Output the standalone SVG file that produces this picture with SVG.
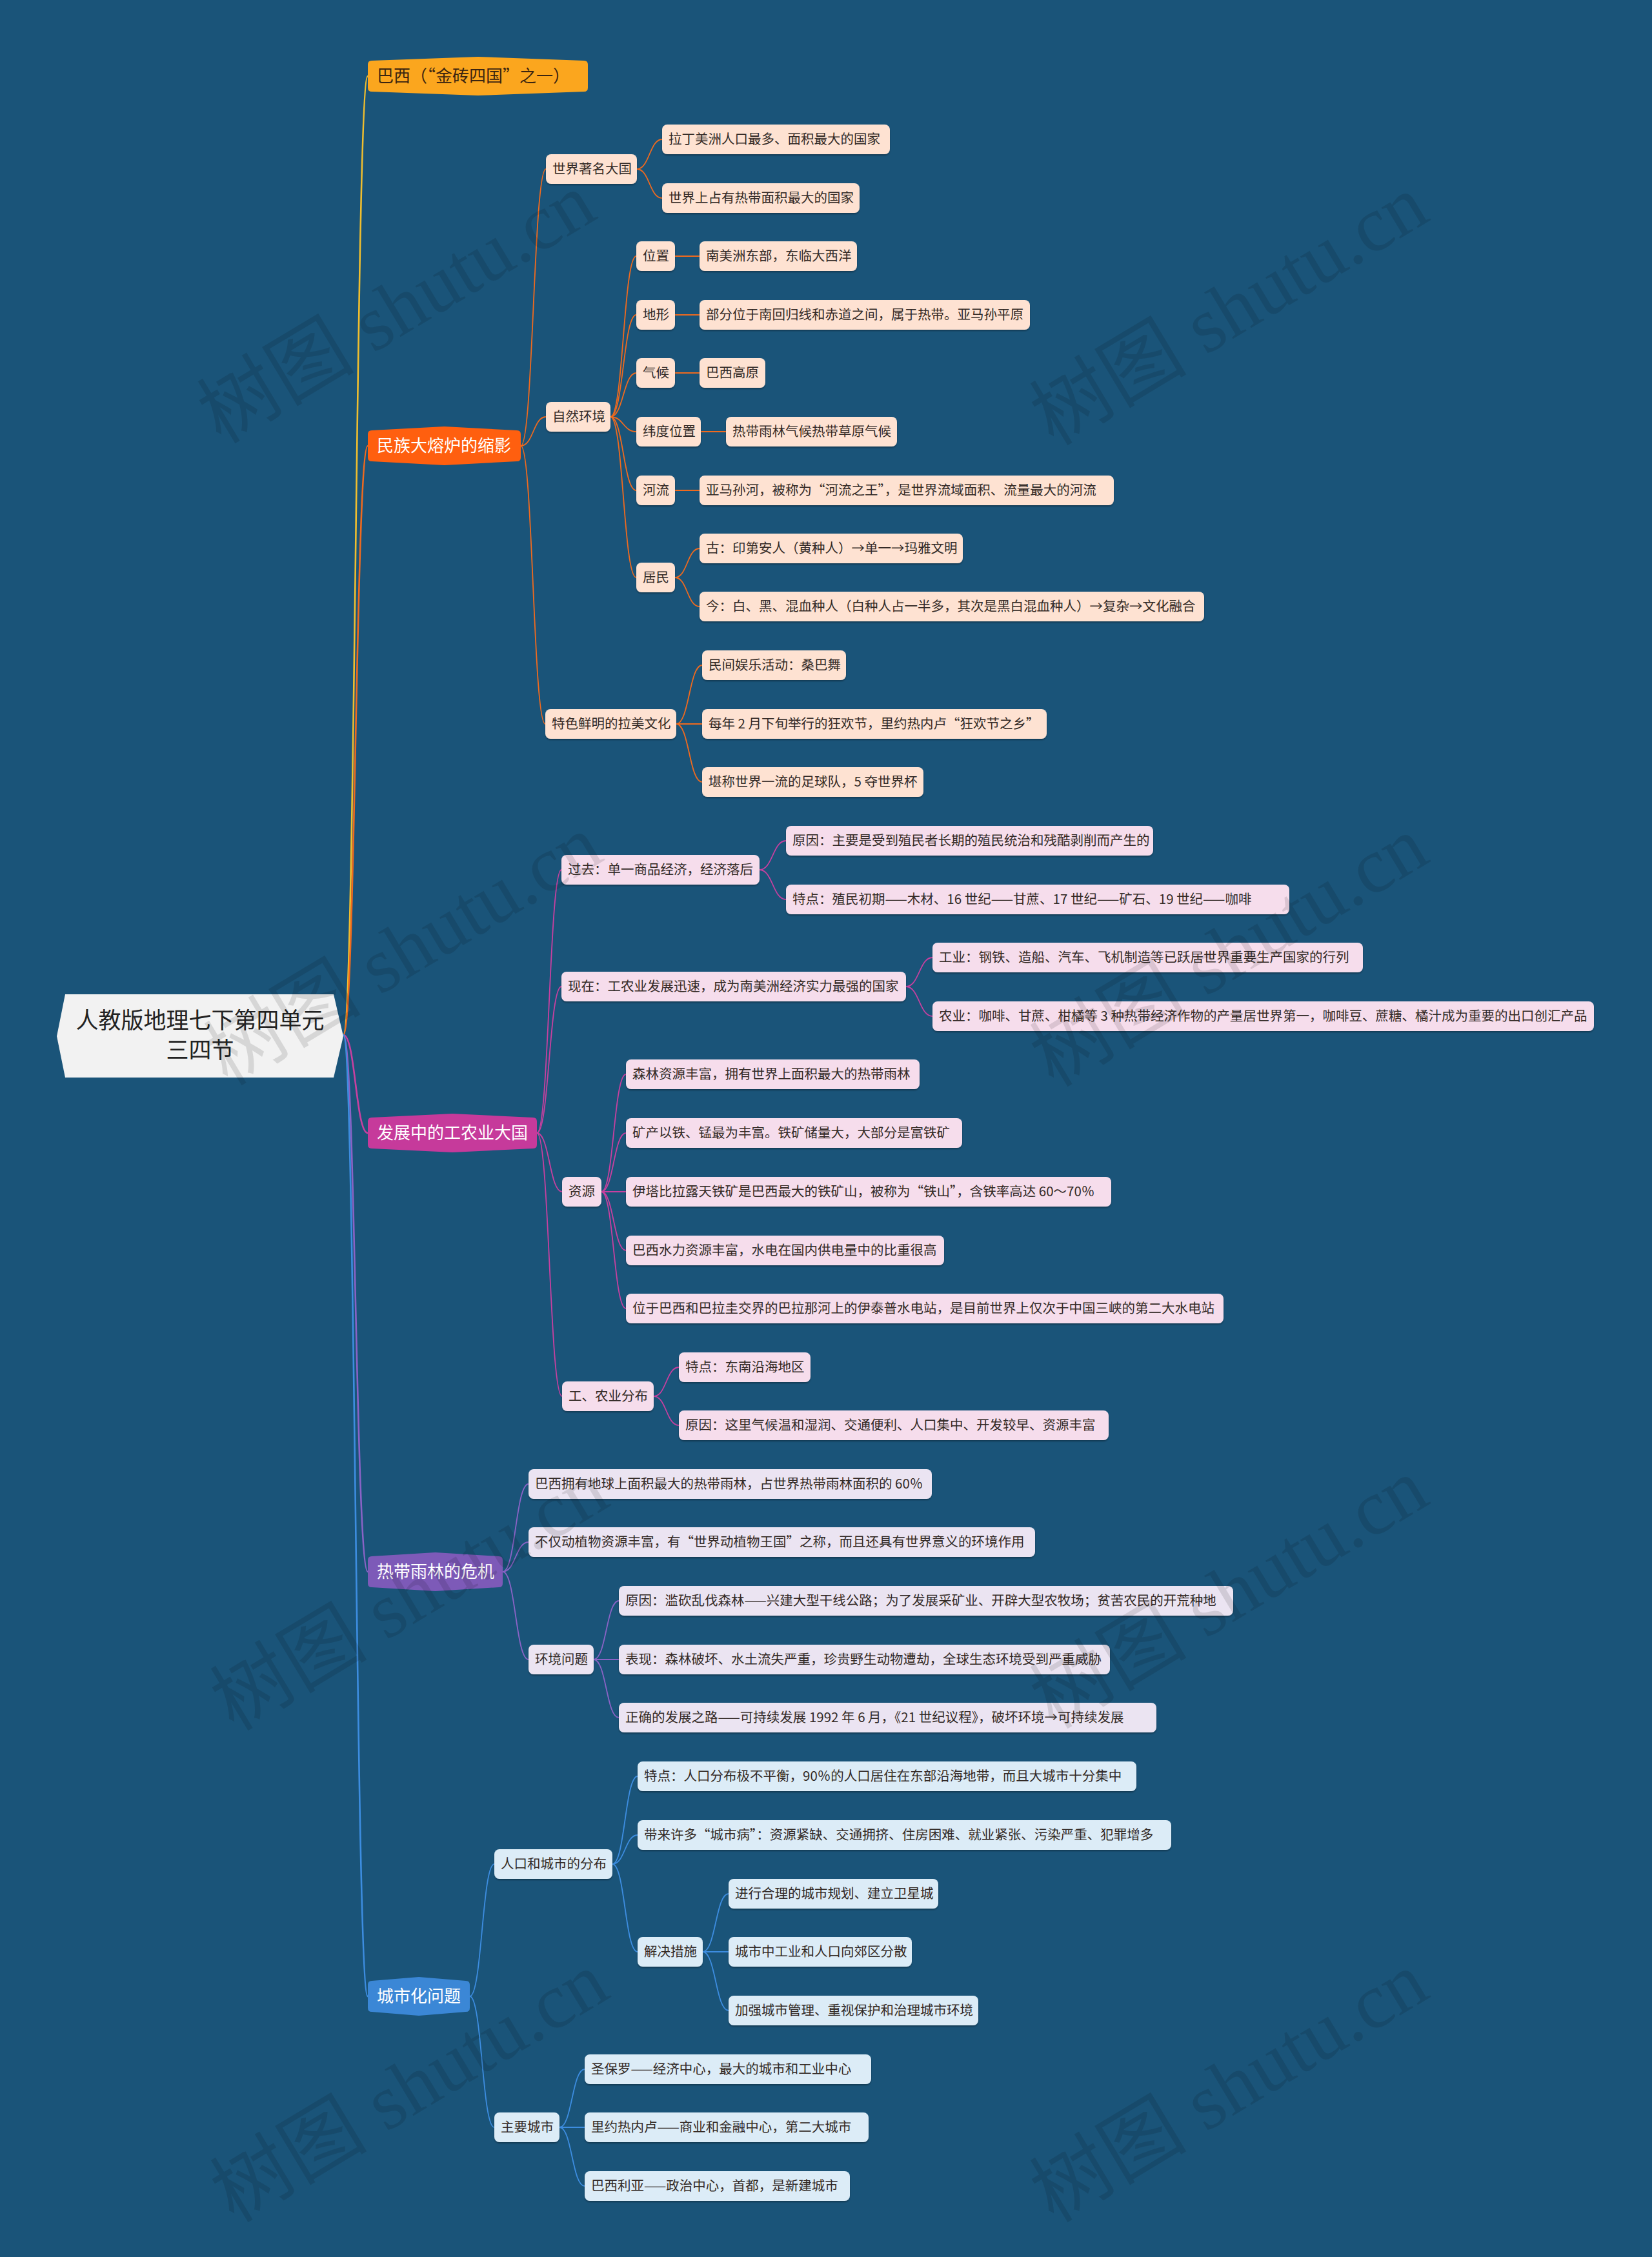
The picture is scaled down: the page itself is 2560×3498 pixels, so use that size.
<svg xmlns="http://www.w3.org/2000/svg" width="2560" height="3498" viewBox="0 0 2560 3498">
<defs>
<filter id="sh" x="-5%" y="-20%" width="110%" height="150%"><feDropShadow dx="0" dy="2" stdDeviation="1.2" flood-color="#000" flood-opacity="0.3"/></filter>
<style>
text{font-family:"Noto Sans CJK SC","Liberation Sans",sans-serif;}
.s{font-size:20.5px;fill:#332a26;}
.l1{font-size:26px;fill:#ffffff;}
.rt{font-size:35px;fill:#222222;}
.q{font-feature-settings:"fwid" 1;}
.c{fill:none;stroke-linecap:round;}
.m{stroke-width:2.6;}
.k{stroke-width:1.8;}
.cy{stroke:#F0BE2E;}
.co{stroke:#F06A1E;}
.cp{stroke:#C840A0;}
.cv{stroke:#8A63C6;}
.cb{stroke:#3D8DE0;}
.no rect{fill:#FEE2D2;}
.np rect{fill:#F6DDEC;}
.nv rect{fill:#EBE4F2;}
.nb rect{fill:#DCECF7;}
.node rect{filter:url(#sh);}
.wm{font-family:"Liberation Serif","Noto Sans CJK SC",serif;font-size:122px;fill:#000;opacity:0.11;}
</style>
</defs>
<rect x="0" y="0" width="2560" height="3498" fill="#1A5479"/>

<g id="connectors">
<path class="c m cy" d="M532,1604 C551,1604 551,118 570,118"/>
<path class="c m co" d="M532,1604 C551,1604 551,691 570,691"/>
<path class="c m cp" d="M532,1604 C551,1604 551,1756 570,1756"/>
<path class="c m cv" d="M532,1604 C551,1604 551,2436 570,2436"/>
<path class="c m cb" d="M532,1604 C551,1604 551,3094 570,3094"/>
<path class="c k co" d="M807,691 C826.5,691 826.5,262 846,262"/>
<path class="c k co" d="M807,691 C826.5,691 826.5,646 846,646"/>
<path class="c k co" d="M807,691 C826,691 826,1122 845,1122"/>
<path class="c k co" d="M987,262 C1006.5,262 1006.5,216 1026,216"/>
<path class="c k co" d="M987,262 C1006.5,262 1006.5,307 1026,307"/>
<path class="c k co" d="M946,646 C966,646 966,397 986,397"/>
<path class="c k co" d="M946,646 C966,646 966,488 986,488"/>
<path class="c k co" d="M946,646 C966,646 966,578 986,578"/>
<path class="c k co" d="M946,646 C966,646 966,669 986,669"/>
<path class="c k co" d="M946,646 C966,646 966,760 986,760"/>
<path class="c k co" d="M946,646 C966,646 966,895 986,895"/>
<path class="c k co" d="M1046,397 L1084,397"/>
<path class="c k co" d="M1046,488 L1084,488"/>
<path class="c k co" d="M1046,578 L1084,578"/>
<path class="c k co" d="M1086,669 L1125,669"/>
<path class="c k co" d="M1046,760 L1084,760"/>
<path class="c k co" d="M1046,895 C1065,895 1065,850 1084,850"/>
<path class="c k co" d="M1046,895 C1065,895 1065,940 1084,940"/>
<path class="c k co" d="M1048,1122 C1068,1122 1068,1031 1088,1031"/>
<path class="c k co" d="M1048,1122 L1088,1122"/>
<path class="c k co" d="M1048,1122 C1068,1122 1068,1212 1088,1212"/>
<path class="c k cp" d="M832,1756 C851,1756 851,1348 870,1348"/>
<path class="c k cp" d="M832,1756 C851,1756 851,1529 870,1529"/>
<path class="c k cp" d="M832,1756 C851.5,1756 851.5,1847 871,1847"/>
<path class="c k cp" d="M832,1756 C851.5,1756 851.5,2164 871,2164"/>
<path class="c k cp" d="M1177,1348 C1197.5,1348 1197.5,1303 1218,1303"/>
<path class="c k cp" d="M1177,1348 C1197.5,1348 1197.5,1394 1218,1394"/>
<path class="c k cp" d="M1404,1529 C1424.5,1529 1424.5,1484 1445,1484"/>
<path class="c k cp" d="M1404,1529 C1424.5,1529 1424.5,1575 1445,1575"/>
<path class="c k cp" d="M932,1847 C951,1847 951,1665 970,1665"/>
<path class="c k cp" d="M932,1847 C951,1847 951,1756 970,1756"/>
<path class="c k cp" d="M932,1847 L970,1847"/>
<path class="c k cp" d="M932,1847 C951,1847 951,1938 970,1938"/>
<path class="c k cp" d="M932,1847 C951,1847 951,2028 970,2028"/>
<path class="c k cp" d="M1013,2164 C1032.5,2164 1032.5,2119 1052,2119"/>
<path class="c k cp" d="M1013,2164 C1032.5,2164 1032.5,2209 1052,2209"/>
<path class="c k cv" d="M779,2436 C799,2436 799,2300 819,2300"/>
<path class="c k cv" d="M779,2436 C799,2436 799,2390 819,2390"/>
<path class="c k cv" d="M779,2436 C799,2436 799,2572 819,2572"/>
<path class="c k cv" d="M920,2572 C939.5,2572 939.5,2481 959,2481"/>
<path class="c k cv" d="M920,2572 L959,2572"/>
<path class="c k cv" d="M920,2572 C939.5,2572 939.5,2662 959,2662"/>
<path class="c k cb" d="M728,3094 C747,3094 747,2889 766,2889"/>
<path class="c k cb" d="M728,3094 C747,3094 747,3297 766,3297"/>
<path class="c k cb" d="M949,2889 C968.5,2889 968.5,2753 988,2753"/>
<path class="c k cb" d="M949,2889 C968.5,2889 968.5,2844 988,2844"/>
<path class="c k cb" d="M949,2889 C968.5,2889 968.5,3025 988,3025"/>
<path class="c k cb" d="M1089,3025 C1109,3025 1109,2935 1129,2935"/>
<path class="c k cb" d="M1089,3025 L1129,3025"/>
<path class="c k cb" d="M1089,3025 C1109,3025 1109,3116 1129,3116"/>
<path class="c k cb" d="M867,3297 C886.5,3297 886.5,3207 906,3207"/>
<path class="c k cb" d="M867,3297 L906,3297"/>
<path class="c k cb" d="M867,3297 C886.5,3297 886.5,3388 906,3388"/>
</g>

<g id="root">
<path d="M88,1606 L101,1541 L517,1541 L532,1606 L517,1670 L101,1670 Z" fill="#F2F2F2"/>
<text class="rt" x="310" y="1594" text-anchor="middle">人教版地理七下第四单元</text>
<text class="rt" x="310" y="1640" text-anchor="middle">三四节</text>
</g>

<g id="n-baxi">
<path d="M570,100 Q570,94 576,94 L740.5,88 L905,94 Q911,94 911,100 L911,136 Q911,142 905,142 L740.5,148 L576,142 Q570,142 570,136 Z" fill="#FBA61E"/>
<text class="l1" x="584" y="127" style="fill:#3a2410">巴西（<tspan class="q">“</tspan>金砖四国<tspan class="q">”</tspan>之一）</text>
</g>
<g id="n-minzu">
<path d="M570,673 Q570,667 576,667 L688.5,661 L801,667 Q807,667 807,673 L807,709 Q807,715 801,715 L688.5,721 L576,715 Q570,715 570,709 Z" fill="#FF5F0F"/>
<text class="l1" x="584" y="700">民族大熔炉的缩影</text>
</g>
<g id="n-fazhan">
<path d="M570,1738 Q570,1732 576,1732 L701,1726 L826,1732 Q832,1732 832,1738 L832,1774 Q832,1780 826,1780 L701,1786 L576,1780 Q570,1780 570,1774 Z" fill="#C63A9B"/>
<text class="l1" x="584" y="1765">发展中的工农业大国</text>
</g>
<g id="n-redai">
<path d="M570,2418 Q570,2412 576,2412 L674.5,2406 L773,2412 Q779,2412 779,2418 L779,2454 Q779,2460 773,2460 L674.5,2466 L576,2460 Q570,2460 570,2454 Z" fill="#7D5AB8"/>
<text class="l1" x="584" y="2445">热带雨林的危机</text>
</g>
<g id="n-chengshi">
<path d="M570,3076 Q570,3070 576,3070 L649,3064 L722,3070 Q728,3070 728,3076 L728,3112 Q728,3118 722,3118 L649,3124 L576,3118 Q570,3118 570,3112 Z" fill="#3B87D6"/>
<text class="l1" x="584" y="3103">城市化问题</text>
</g>

<g id="n-a1" class="node no"><rect x="846" y="239" width="141" height="46" rx="8"/><text class="s" x="856" y="269">世界著名大国</text></g>
<g id="n-a1a" class="node no"><rect x="1026" y="193" width="353" height="46" rx="8"/><text class="s" x="1036" y="223">拉丁美洲人口最多、面积最大的国家</text></g>
<g id="n-a1b" class="node no"><rect x="1026" y="284" width="306" height="46" rx="8"/><text class="s" x="1036" y="314">世界上占有热带面积最大的国家</text></g>
<g id="n-a2" class="node no"><rect x="846" y="623" width="100" height="46" rx="8"/><text class="s" x="856" y="653">自然环境</text></g>
<g id="n-a2a" class="node no"><rect x="986" y="374" width="60" height="46" rx="8"/><text class="s" x="996" y="404">位置</text></g>
<g id="n-a2a1" class="node no"><rect x="1084" y="374" width="244" height="46" rx="8"/><text class="s" x="1094" y="404">南美洲东部，东临大西洋</text></g>
<g id="n-a2b" class="node no"><rect x="986" y="465" width="60" height="46" rx="8"/><text class="s" x="996" y="495">地形</text></g>
<g id="n-a2b1" class="node no"><rect x="1084" y="465" width="512" height="46" rx="8"/><text class="s" x="1094" y="495">部分位于南回归线和赤道之间，属于热带。亚马孙平原</text></g>
<g id="n-a2c" class="node no"><rect x="986" y="555" width="60" height="46" rx="8"/><text class="s" x="996" y="585">气候</text></g>
<g id="n-a2c1" class="node no"><rect x="1084" y="555" width="102" height="46" rx="8"/><text class="s" x="1094" y="585">巴西高原</text></g>
<g id="n-a2d" class="node no"><rect x="986" y="646" width="100" height="46" rx="8"/><text class="s" x="996" y="676">纬度位置</text></g>
<g id="n-a2d1" class="node no"><rect x="1125" y="646" width="265" height="46" rx="8"/><text class="s" x="1135" y="676">热带雨林气候热带草原气候</text></g>
<g id="n-a2e" class="node no"><rect x="986" y="737" width="60" height="46" rx="8"/><text class="s" x="996" y="767">河流</text></g>
<g id="n-a2e1" class="node no"><rect x="1084" y="737" width="642" height="46" rx="8"/><text class="s" x="1094" y="767">亚马孙河，被称为<tspan class="q">“</tspan>河流之王<tspan class="q">”</tspan>，是世界流域面积、流量最大的河流</text></g>
<g id="n-a2f" class="node no"><rect x="986" y="872" width="60" height="46" rx="8"/><text class="s" x="996" y="902">居民</text></g>
<g id="n-a2f1" class="node no"><rect x="1084" y="827" width="408" height="46" rx="8"/><text class="s" x="1094" y="857">古：印第安人（黄种人）→单一→玛雅文明</text></g>
<g id="n-a2f2" class="node no"><rect x="1084" y="917" width="782" height="46" rx="8"/><text class="s" x="1094" y="947">今：白、黑、混血种人（白种人占一半多，其次是黑白混血种人）→复杂→文化融合</text></g>
<g id="n-a3" class="node no"><rect x="845" y="1099" width="203" height="46" rx="8"/><text class="s" x="855" y="1129">特色鲜明的拉美文化</text></g>
<g id="n-a3a" class="node no"><rect x="1088" y="1008" width="223" height="46" rx="8"/><text class="s" x="1098" y="1038">民间娱乐活动：桑巴舞</text></g>
<g id="n-a3b" class="node no"><rect x="1088" y="1099" width="534" height="46" rx="8"/><text class="s" x="1098" y="1129">每年 2 月下旬举行的狂欢节，里约热内卢<tspan class="q">“</tspan>狂欢节之乡<tspan class="q">”</tspan></text></g>
<g id="n-a3c" class="node no"><rect x="1088" y="1189" width="343" height="46" rx="8"/><text class="s" x="1098" y="1219">堪称世界一流的足球队，5 夺世界杯</text></g>

<g id="n-b1" class="node np"><rect x="870" y="1325" width="307" height="46" rx="8"/><text class="s" x="880" y="1355">过去：单一商品经济，经济落后</text></g>
<g id="n-b1a" class="node np"><rect x="1218" y="1280" width="569" height="46" rx="8"/><text class="s" x="1228" y="1310">原因：主要是受到殖民者长期的殖民统治和残酷剥削而产生的</text></g>
<g id="n-b1b" class="node np"><rect x="1218" y="1371" width="780" height="46" rx="8"/><text class="s" x="1228" y="1401">特点：殖民初期——木材、16 世纪——甘蔗、17 世纪——矿石、19 世纪——咖啡</text></g>
<g id="n-b2" class="node np"><rect x="870" y="1506" width="534" height="46" rx="8"/><text class="s" x="880" y="1536">现在：工农业发展迅速，成为南美洲经济实力最强的国家</text></g>
<g id="n-b2a" class="node np"><rect x="1445" y="1461" width="667" height="46" rx="8"/><text class="s" x="1455" y="1491">工业：钢铁、造船、汽车、飞机制造等已跃居世界重要生产国家的行列</text></g>
<g id="n-b2b" class="node np"><rect x="1445" y="1552" width="1025" height="46" rx="8"/><text class="s" x="1455" y="1582">农业：咖啡、甘蔗、柑橘等 3 种热带经济作物的产量居世界第一，咖啡豆、蔗糖、橘汁成为重要的出口创汇产品</text></g>
<g id="n-b3" class="node np"><rect x="871" y="1824" width="61" height="46" rx="8"/><text class="s" x="881" y="1854">资源</text></g>
<g id="n-b3a" class="node np"><rect x="970" y="1642" width="455" height="46" rx="8"/><text class="s" x="980" y="1672">森林资源丰富，拥有世界上面积最大的热带雨林</text></g>
<g id="n-b3b" class="node np"><rect x="970" y="1733" width="521" height="46" rx="8"/><text class="s" x="980" y="1763">矿产以铁、锰最为丰富。铁矿储量大，大部分是富铁矿</text></g>
<g id="n-b3c" class="node np"><rect x="970" y="1824" width="752" height="46" rx="8"/><text class="s" x="980" y="1854">伊塔比拉露天铁矿是巴西最大的铁矿山，被称为<tspan class="q">“</tspan>铁山<tspan class="q">”</tspan>，含铁率高达 60～70％</text></g>
<g id="n-b3d" class="node np"><rect x="970" y="1915" width="493" height="46" rx="8"/><text class="s" x="980" y="1945">巴西水力资源丰富，水电在国内供电量中的比重很高</text></g>
<g id="n-b3e" class="node np"><rect x="970" y="2005" width="926" height="46" rx="8"/><text class="s" x="980" y="2035">位于巴西和巴拉圭交界的巴拉那河上的伊泰普水电站，是目前世界上仅次于中国三峡的第二大水电站</text></g>
<g id="n-b4" class="node np"><rect x="871" y="2141" width="142" height="46" rx="8"/><text class="s" x="881" y="2171">工、农业分布</text></g>
<g id="n-b4a" class="node np"><rect x="1052" y="2096" width="204" height="46" rx="8"/><text class="s" x="1062" y="2126">特点：东南沿海地区</text></g>
<g id="n-b4b" class="node np"><rect x="1052" y="2186" width="666" height="46" rx="8"/><text class="s" x="1062" y="2216">原因：这里气候温和湿润、交通便利、人口集中、开发较早、资源丰富</text></g>

<g id="n-c1" class="node nv"><rect x="819" y="2277" width="625" height="46" rx="8"/><text class="s" x="829" y="2307">巴西拥有地球上面积最大的热带雨林，占世界热带雨林面积的 60％</text></g>
<g id="n-c2" class="node nv"><rect x="819" y="2367" width="785" height="46" rx="8"/><text class="s" x="829" y="2397">不仅动植物资源丰富，有<tspan class="q">“</tspan>世界动植物王国<tspan class="q">”</tspan>之称，而且还具有世界意义的环境作用</text></g>
<g id="n-c3" class="node nv"><rect x="819" y="2549" width="101" height="46" rx="8"/><text class="s" x="829" y="2579">环境问题</text></g>
<g id="n-c3a" class="node nv"><rect x="959" y="2458" width="952" height="46" rx="8"/><text class="s" x="969" y="2488">原因：滥砍乱伐森林——兴建大型干线公路；为了发展采矿业、开辟大型农牧场；贫苦农民的开荒种地</text></g>
<g id="n-c3b" class="node nv"><rect x="959" y="2549" width="761" height="46" rx="8"/><text class="s" x="969" y="2579">表现：森林破坏、水土流失严重，珍贵野生动物遭劫，全球生态环境受到严重威胁</text></g>
<g id="n-c3c" class="node nv"><rect x="959" y="2639" width="833" height="46" rx="8"/><text class="s" x="969" y="2669">正确的发展之路——可持续发展 1992 年 6 月，《21 世纪议程》，破坏环境→可持续发展</text></g>

<g id="n-d1" class="node nb"><rect x="766" y="2866" width="183" height="46" rx="8"/><text class="s" x="776" y="2896">人口和城市的分布</text></g>
<g id="n-d1a" class="node nb"><rect x="988" y="2730" width="773" height="46" rx="8"/><text class="s" x="998" y="2760">特点：人口分布极不平衡，90％的人口居住在东部沿海地带，而且大城市十分集中</text></g>
<g id="n-d1b" class="node nb"><rect x="988" y="2821" width="827" height="46" rx="8"/><text class="s" x="998" y="2851">带来许多<tspan class="q">“</tspan>城市病<tspan class="q">”</tspan>：资源紧缺、交通拥挤、住房困难、就业紧张、污染严重、犯罪增多</text></g>
<g id="n-d1c" class="node nb"><rect x="988" y="3002" width="101" height="46" rx="8"/><text class="s" x="998" y="3032">解决措施</text></g>
<g id="n-d1c1" class="node nb"><rect x="1129" y="2912" width="325" height="46" rx="8"/><text class="s" x="1139" y="2942">进行合理的城市规划、建立卫星城</text></g>
<g id="n-d1c2" class="node nb"><rect x="1129" y="3002" width="284" height="46" rx="8"/><text class="s" x="1139" y="3032">城市中工业和人口向郊区分散</text></g>
<g id="n-d1c3" class="node nb"><rect x="1129" y="3093" width="387" height="46" rx="8"/><text class="s" x="1139" y="3123">加强城市管理、重视保护和治理城市环境</text></g>
<g id="n-d2" class="node nb"><rect x="766" y="3274" width="101" height="46" rx="8"/><text class="s" x="776" y="3304">主要城市</text></g>
<g id="n-d2a" class="node nb"><rect x="906" y="3184" width="444" height="46" rx="8"/><text class="s" x="916" y="3214">圣保罗——经济中心，最大的城市和工业中心</text></g>
<g id="n-d2b" class="node nb"><rect x="906" y="3274" width="440" height="46" rx="8"/><text class="s" x="916" y="3304">里约热内卢——商业和金融中心，第二大城市</text></g>
<g id="n-d2c" class="node nb"><rect x="906" y="3365" width="411" height="46" rx="8"/><text class="s" x="916" y="3395">巴西利亚——政治中心，首都，是新建城市</text></g>

<g id="watermark">
<text class="wm" text-anchor="middle" transform="translate(636,513) rotate(-31)">树图 shutu.cn</text>
<text class="wm" text-anchor="middle" transform="translate(1926,516) rotate(-31)">树图 shutu.cn</text>
<text class="wm" text-anchor="middle" transform="translate(646,1508) rotate(-31)">树图 shutu.cn</text>
<text class="wm" text-anchor="middle" transform="translate(1926,1510) rotate(-31)">树图 shutu.cn</text>
<text class="wm" text-anchor="middle" transform="translate(656,2508) rotate(-31)">树图 shutu.cn</text>
<text class="wm" text-anchor="middle" transform="translate(1926,2505) rotate(-31)">树图 shutu.cn</text>
<text class="wm" text-anchor="middle" transform="translate(656,3270) rotate(-31)">树图 shutu.cn</text>
<text class="wm" text-anchor="middle" transform="translate(1926,3270) rotate(-31)">树图 shutu.cn</text>
</g>
</svg>
